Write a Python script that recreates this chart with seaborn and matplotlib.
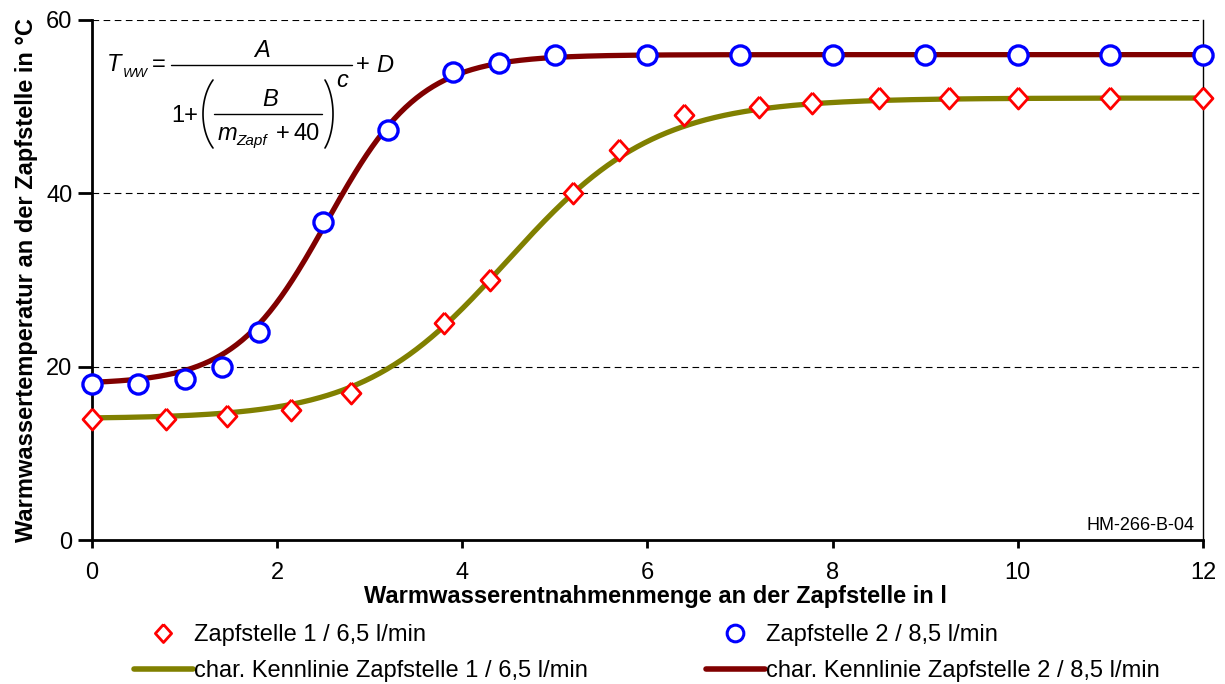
import numpy as np
import pandas as pd
import matplotlib
matplotlib.use("Agg")
import matplotlib.pyplot as plt
from matplotlib.lines import Line2D
import seaborn as sns

# Measured tap temperatures
m_tap1 = [0.0, 0.8, 1.46, 2.15, 2.8, 3.8, 4.3, 5.2, 5.69, 6.39, 7.2, 7.78, 8.5, 9.26, 10.0, 11.0, 12.0]
t_tap1 = [14.0, 14.0, 14.3, 15.0, 17.0, 25.0, 30.0, 40.0, 45.0, 49.0, 50.0, 50.4, 51.0, 51.0, 51.0, 51.0, 51.0]

m_tap2 = [0.0, 0.5, 1.0, 1.4, 1.8, 2.5, 3.2, 3.9, 4.4, 5.0, 6.0, 7.0, 8.0, 9.0, 10.0, 11.0, 12.0]
t_tap2 = [18.0, 18.0, 18.6, 20.0, 24.0, 36.7, 47.3, 54.0, 55.0, 56.0, 56.0, 56.0, 56.0, 56.0, 56.0, 56.0, 56.0]

# Characteristic curve parameters  T = A / (1 + (B / (m + 40))^c) + D
params_tap1 = dict(A=37.0, B=44.51, c=56.3, D=14.0)
params_tap2 = dict(A=38.0, B=42.55, c=85.0, D=18.0)

label_pts1 = "Zapfstelle 1 / 6,5 l/min"
label_pts2 = "Zapfstelle 2 / 8,5 l/min"
label_fit1 = "char. Kennlinie Zapfstelle 1 / 6,5 l/min"
label_fit2 = "char. Kennlinie Zapfstelle 2 / 8,5 l/min"

x_ticks = [0, 2, 4, 6, 8, 10, 12]
y_ticks = [0, 20, 40, 60]

W, H = 1225, 684


def kennlinie(m, A, B, c, D):
    return A / (1.0 + (B / (m + 40.0)) ** c) + D


sns.set_style("white")
plt.rcParams["font.family"] = ["Liberation Sans", "DejaVu Sans"]
for key in ["text.color", "axes.labelcolor", "xtick.color", "ytick.color"]:
    plt.rcParams[key] = "black"

fig = plt.figure(figsize=(W / 100, H / 100), dpi=100)
ax = fig.add_axes([0.0751, 0.2105, 0.9069, 0.7603])

m_grid = np.linspace(0, 12, 600)
curves = pd.DataFrame({
    "m": np.concatenate([m_grid, m_grid]),
    "T": np.concatenate([kennlinie(m_grid, **params_tap1), kennlinie(m_grid, **params_tap2)]),
    "serie": [label_fit1] * len(m_grid) + [label_fit2] * len(m_grid),
})

olive = "#808000"
darkred = "#800000"

sns.lineplot(data=curves, x="m", y="T", hue="serie",
             palette={label_fit1: olive, label_fit2: darkred},
             linewidth=3.8, legend=False, ax=ax, zorder=3)

diamond = [(0, 1.0), (0.9, 0), (0, -1.0), (-0.9, 0), (0, 1.0)]

sns.scatterplot(x=m_tap1, y=t_tap1, marker=diamond, s=230, color="white",
                edgecolor="#ff0000", linewidth=2.0, ax=ax, zorder=5, clip_on=False)
sns.scatterplot(x=m_tap2, y=t_tap2, marker="o", s=190, color="white",
                edgecolor="#0000ff", linewidth=2.4, ax=ax, zorder=5, clip_on=False)

ax.set_xlim(0, 12)
ax.set_ylim(0, 60)
ax.set_xticks(x_ticks)
ax.set_xticks(range(0, 13), minor=True)
ax.set_yticks(y_ticks)
ax.tick_params(axis="x", which="major", direction="out", length=6, width=2, labelsize=17, pad=10)
ax.tick_params(axis="x", which="minor", direction="out", length=5, width=2)
ax.tick_params(axis="y", which="major", direction="out", length=10, width=2, labelsize=17, pad=4)
ax.tick_params(axis="x", bottom=True)
ax.tick_params(axis="y", left=True)

for yv in [20, 40, 60]:
    ax.axhline(yv, color="black", linestyle=(0, (6, 4)), linewidth=0.8, zorder=1)

for side in ["left", "bottom"]:
    ax.spines[side].set_linewidth(2)
    ax.spines[side].set_color("black")
ax.spines["right"].set_linewidth(1)
ax.spines["right"].set_color("black")
ax.spines["top"].set_visible(False)

ax.set_xlabel("Warmwasserentnahmenmenge an der Zapfstelle in l", fontsize=17,
              fontweight="bold")
ax.xaxis.set_label_coords(0.507, -0.086)
ax.set_ylabel("Warmwassertemperatur an der Zapfstelle in °C", fontsize=17,
              fontweight="bold", labelpad=6)

ax.text(0.992, 0.012, "HM-266-B-04", transform=ax.transAxes, fontsize=13,
        ha="right", va="bottom")


# Formula of the characteristic curve, set piece by piece in pixel positions
def px(x, y):
    return x / W, 1 - y / H


def put(x, y, s, size=17, italic=False, ha="left"):
    fig.text(*px(x, y), s, fontsize=size, style="italic" if italic else "normal",
             ha=ha, va="baseline")


def bar(x0, x1, y):
    fig.add_artist(Line2D([x0 / W, x1 / W], [1 - y / H, 1 - y / H],
                          color="black", linewidth=1.0, transform=fig.transFigure))


def paren(x_mid, x_end, y0, y1):
    yc = 0.5 * (y0 + y1)
    half = 0.5 * (y1 - y0)
    b = half * 1.35
    k = np.sqrt(1 - (half / b) ** 2)
    a = abs(x_end - x_mid) / (1 - k)
    xc = x_mid + a if x_end > x_mid else x_mid - a
    yy = np.linspace(y0, y1, 60)
    xx = xc - np.sign(xc - x_mid) * a * np.sqrt(1 - ((yy - yc) / b) ** 2)
    fig.add_artist(Line2D(xx / W, 1 - yy / H, color="black", linewidth=1.2,
                          transform=fig.transFigure))


put(107, 71, "T", italic=True)
put(123, 77, "WW", size=9.5, italic=True)
put(152, 71, "=")
bar(171, 352, 65)
put(262, 57, "A", italic=True, ha="center")
put(356, 71, "+")
put(376, 72, "D", italic=True)
put(171, 122, "1+")
paren(203, 213, 80, 148)
put(270, 106, "B", italic=True, ha="center")
bar(214, 322, 114)
put(218, 140, "m", italic=True)
put(236, 145, "Zapf", size=11, italic=True)
put(276, 140, "+")
put(294, 140, "40")
paren(333, 325, 80, 148)
put(336, 87, "c", italic=True)

handles = [
    Line2D([], [], linestyle="none", marker=diamond, markersize=13, markerfacecolor="white",
           markeredgecolor="#ff0000", markeredgewidth=2.0),
    Line2D([], [], color=olive, linewidth=4),
    Line2D([], [], linestyle="none", marker="o", markersize=12, markerfacecolor="white",
           markeredgecolor="#0000ff", markeredgewidth=2.2),
    Line2D([], [], color=darkred, linewidth=4),
]
labels = [label_pts1, label_fit1, label_pts2, label_fit2]
fig.legend(handles, labels, ncol=2, loc="center", bbox_to_anchor=(0.528, 0.0453),
           frameon=False, fontsize=17, handlelength=2.5, handletextpad=0.05,
           columnspacing=5.0, labelspacing=0.6)

fig.savefig("out.png", dpi=100)
